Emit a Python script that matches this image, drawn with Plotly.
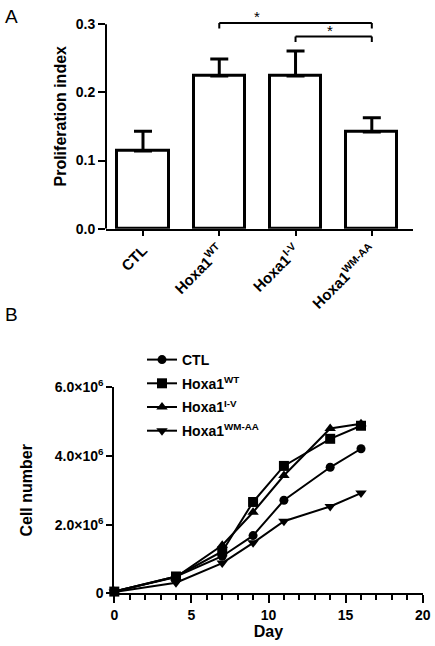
import plotly.graph_objects as go

# ---------------- data ----------------
groups = ["CTL", "Hoxa1<sup>WT</sup>", "Hoxa1<sup>I-V</sup>", "Hoxa1<sup>WM-AA</sup>"]
prolif = [0.114, 0.224, 0.224, 0.142]
prolif_err = [0.029, 0.025, 0.037, 0.021]

days = [0, 4, 7, 9, 11, 14, 16]
ctl = [0.05e6, 0.49e6, 1.08e6, 1.68e6, 2.71e6, 3.67e6, 4.21e6]
wt = [0.05e6, 0.49e6, 1.22e6, 2.66e6, 3.71e6, 4.50e6, 4.88e6]
iv = [0.05e6, 0.47e6, 1.40e6, 2.36e6, 3.43e6, 4.80e6, 4.94e6]
wmaa = [0.04e6, 0.31e6, 0.88e6, 1.47e6, 2.10e6, 2.53e6, 2.92e6]
series_names = ["CTL", "Hoxa1<sup>WT</sup>", "Hoxa1<sup>I-V</sup>", "Hoxa1<sup>WM-AA</sup>"]
series_symbols = ["circle", "square", "triangle-up", "triangle-down"]

# significance brackets: (from group, to group, height, star position)
brackets = [(1, 3, 0.302, 1.5), (2, 3, 0.282, 2.45)]

y_ticks_b = [0, 2e6, 4e6, 6e6]
y_ticktext_b = ["0", "2.0×10<sup>6</sup>", "4.0×10<sup>6</sup>", "6.0×10<sup>6</sup>"]

W, H = 435, 646
FONT = "Liberation Sans, Arial, sans-serif"


def px_x(a, b):
    return [a / W, b / W]


def px_y(top, bottom):
    return [1 - bottom / H, 1 - top / H]


fig = go.Figure()

# ---------------- panel A ----------------
xs = list(range(len(groups)))
fig.add_trace(go.Bar(
    x=xs, y=prolif, width=0.67,
    marker=dict(color="white", line=dict(color="black", width=3)),
    error_y=dict(type="data", symmetric=False, array=prolif_err,
                 arrayminus=[0] * len(prolif), color="black", thickness=3, width=9),
    xaxis="x", yaxis="y", showlegend=False,
))

# ---------------- panel B ----------------
for name, vals, sym in zip(series_names, [ctl, wt, iv, wmaa], series_symbols):
    fig.add_trace(go.Scatter(
        x=days, y=vals, name=name, mode="lines+markers",
        line=dict(color="black", width=2),
        marker=dict(symbol=sym, size=10 if sym != "circle" else 9, color="black"),
        cliponaxis=False, xaxis="x2", yaxis="y2", legendgroup=name,
    ))

shapes = [dict(type="line", xref="x domain", yref="y", x0=0, x1=0, y0=0, y1=0.3,
               line=dict(color="black", width=2))]
annotations = []
for g0, g1, h, sx in brackets:
    drop = 0.008
    shapes.append(dict(type="line", xref="x", yref="y", x0=g0, x1=g1, y0=h, y1=h,
                       line=dict(color="black", width=2)))
    for g in (g0, g1):
        shapes.append(dict(type="line", xref="x", yref="y", x0=g, x1=g, y0=h, y1=h - drop,
                           line=dict(color="black", width=2)))
    annotations.append(dict(x=sx, y=h, xref="x", yref="y", text="*", showarrow=False,
                            yanchor="bottom", yshift=-4, font=dict(size=15, color="black", family=FONT)))

annotations.append(dict(x=3 / W, y=1 - 4 / H, xref="paper", yref="paper", text="A", showarrow=False,
                        xanchor="left", yanchor="top", font=dict(size=19, color="black", family=FONT)))
annotations.append(dict(x=3 / W, y=1 - 302 / H, xref="paper", yref="paper", text="B", showarrow=False,
                        xanchor="left", yanchor="top", font=dict(size=19, color="black", family=FONT)))

tick_font = dict(size=14, color="black", family=FONT, weight="bold")
xcat_font = dict(size=15, color="black", family=FONT, weight="bold")
title_font = dict(size=16, color="black", family=FONT, weight="bold")

fig.update_layout(
    template="none",
    width=W, height=H,
    margin=dict(l=0, r=0, t=0, b=0, autoexpand=False),
    paper_bgcolor="white", plot_bgcolor="white",
    font=dict(family=FONT, color="black"),
    shapes=shapes, annotations=annotations,
    bargap=0,
    xaxis=dict(domain=px_x(106, 413), range=[-0.485, 3.54], tickvals=xs, ticktext=groups,
               tickangle=-45, ticks="outside", ticklen=5, tickwidth=2, tickcolor="black",
               showline=True, linecolor="black", linewidth=2, showgrid=False, zeroline=False,
               tickfont=xcat_font, anchor="y", automargin=False),
    yaxis=dict(domain=px_y(228.7 - 0.33 * 681.3, 228.7), range=[0, 0.33],
               tickvals=[0, 0.1, 0.2, 0.3], tickformat=".1f",
               ticks="outside", ticklen=7, tickwidth=2, tickcolor="black",
               showline=False, showgrid=False, zeroline=False, tickfont=tick_font,
               title=dict(text="Proliferation index", font=title_font, standoff=5),
               anchor="x", automargin=False),
    xaxis2=dict(domain=px_x(114.3, 422.7), range=[0, 20], tickvals=[0, 5, 10, 15, 20],
                ticks="outside", ticklen=8, tickwidth=2, tickcolor="black",
                minor=dict(dtick=1, ticks="outside", ticklen=5, tickwidth=2, tickcolor="black"),
                showline=True, linecolor="black", linewidth=2, showgrid=False, zeroline=False,
                tickfont=tick_font, title=dict(text="Day", font=title_font, standoff=4),
                anchor="y2", automargin=False),
    yaxis2=dict(domain=px_y(387.3, 593.3), range=[0, 6e6], tickvals=y_ticks_b, ticktext=y_ticktext_b,
                ticks="outside", ticklen=6, tickwidth=2, tickcolor="black",
                showline=True, linecolor="black", linewidth=2, showgrid=False, zeroline=False,
                tickfont=tick_font, title=dict(text="Cell number", font=title_font, standoff=18),
                anchor="x2", automargin=False),
    legend=dict(x=142 / W, y=1 - 344 / H, xanchor="left", yanchor="top",
                font=dict(size=14, color="black", family=FONT, weight="bold"),
                traceorder="grouped", tracegroupgap=2.5, bgcolor="rgba(0,0,0,0)"),
)

fig.write_html("out.html", config={"displayModeBar": False},
               post_script="document.body.style.margin='0';document.body.style.overflow='hidden';")
